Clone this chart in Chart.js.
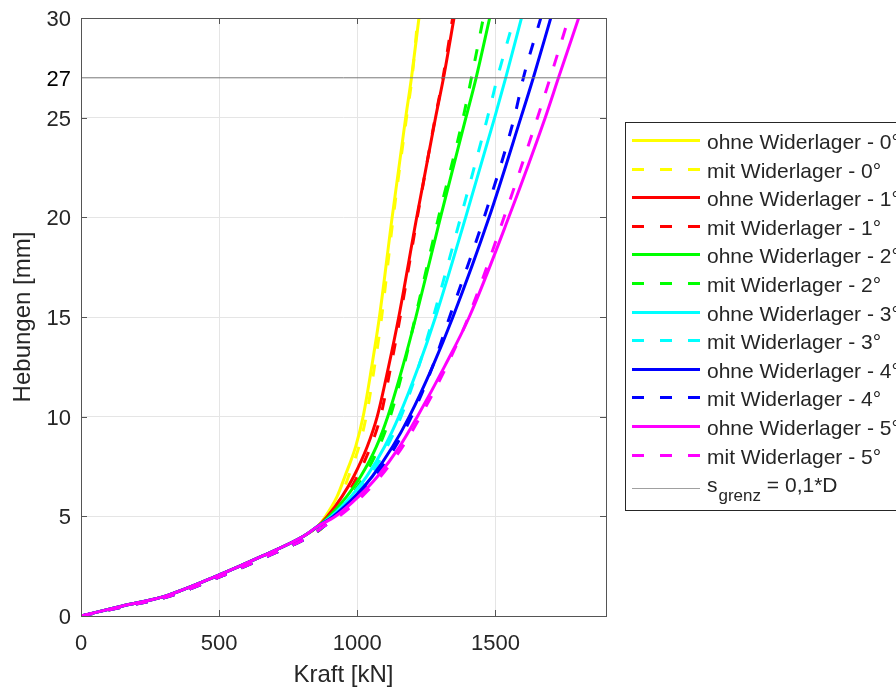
<!DOCTYPE html>
<html>
<head>
<meta charset="utf-8">
<script src="https://cdn.jsdelivr.net/npm/chart.js@4.4.1/dist/chart.umd.min.js"></script>
<style>
  html, body { margin: 0; padding: 0; background: #fff; }
  #wrap { width: 896px; height: 688px; }
</style>
</head>
<body>
<div id="wrap"><canvas id="c" width="896" height="688"></canvas></div>
<script>
// Hebungen [mm] - gemeinsame Stuetzstellen fuer alle Kurven
var hebungen = [0, 0.5, 1, 2, 3, 4, 4.5, 5, 6, 7, 8.5, 10, 12.5, 15, 20, 25, 27, 30];

// Kraft [kN] ohne Widerlager, je Neigung
var kraftOhne0 = [0, 150, 305, 490, 655, 805, 857, 885, 927, 955, 994, 1021, 1052, 1080, 1126, 1175, 1196, 1223];
var kraftOhne1 = [0, 150, 305, 490, 655, 805, 857, 892, 945, 987, 1036, 1072, 1113, 1150, 1215, 1283, 1312, 1350];
var kraftOhne2 = [0, 150, 305, 490, 655, 805, 857, 899, 962, 1012, 1069, 1110, 1164, 1212, 1301, 1393, 1430, 1479];
var kraftOhne3 = [0, 150, 305, 490, 655, 805, 857, 906, 977, 1034, 1099, 1150, 1221, 1283, 1392, 1497, 1537, 1594];
var kraftOhne4 = [0, 150, 305, 490, 655, 805, 857, 913, 992, 1054, 1128, 1188, 1272, 1346, 1477, 1592, 1637, 1700];
var kraftOhne5 = [0, 150, 305, 490, 655, 805, 857, 921, 1005, 1073, 1153, 1217, 1315, 1405, 1548, 1680, 1728, 1801];

// Kraft [kN] mit Widerlager, je Neigung
var kraftMit0 = [0, 165, 322, 508, 676, 828, 879, 902, 942, 968, 1006, 1032, 1062, 1088, 1130, 1178, 1198, 1219];
var kraftMit1 = [0, 165, 322, 508, 676, 828, 879, 908, 959, 1000, 1048, 1084, 1121, 1155, 1217, 1282, 1310, 1345];
var kraftMit2 = [0, 165, 322, 508, 676, 828, 879, 914, 975, 1024, 1079, 1119, 1168, 1210, 1294, 1383, 1413, 1456];
var kraftMit3 = [0, 165, 322, 508, 676, 828, 879, 920, 989, 1045, 1108, 1158, 1222, 1275, 1374, 1471, 1507, 1568];
var kraftMit4 = [0, 165, 322, 508, 676, 828, 879, 927, 1004, 1065, 1138, 1196, 1272, 1334, 1459, 1568, 1601, 1664];
var kraftMit5 = [0, 165, 322, 508, 676, 828, 879, 934, 1017, 1084, 1164, 1228, 1322, 1402, 1531, 1652, 1698, 1765];

var winkel = ['0°', '1°', '2°', '3°', '4°', '5°'];
var farben = ['#ffff00', '#ff0000', '#00ff00', '#00ffff', '#0000ff', '#ff00ff'];

// Grenzhebung s_grenz = 0,1*D
var sGrenz = 27;
var kraftBereich = [0, 1900];

var xTicks = [0, 500, 1000, 1500];
var yTicks = [0, 5, 10, 15, 20, 25, 27, 30];

var ohne = [kraftOhne0, kraftOhne1, kraftOhne2, kraftOhne3, kraftOhne4, kraftOhne5];
var mit = [kraftMit0, kraftMit1, kraftMit2, kraftMit3, kraftMit4, kraftMit5];

function punkte(kraft) {
  return kraft.map(function (k, i) { return { x: k, y: hebungen[i] }; });
}

var datasets = [];
winkel.forEach(function (w, i) {
  datasets.push({
    label: 'ohne Widerlager - ' + w,
    data: punkte(ohne[i]),
    borderColor: farben[i],
    borderWidth: 3
  });
  datasets.push({
    label: 'mit Widerlager - ' + w,
    data: punkte(mit[i]),
    borderColor: farben[i],
    borderWidth: 3,
    borderDash: [12, 16]
  });
});
datasets.push({
  label: 's_grenz = 0,1*D',
  data: [{ x: kraftBereich[0], y: sGrenz }, { x: kraftBereich[1], y: sGrenz }],
  borderColor: '#787878',
  borderWidth: 1
});
// spaeter geplottete Kurven liegen oben
datasets.forEach(function (ds, i) {
  ds.order = datasets.length - i;
  ds.pointRadius = 0;
  ds.fill = false;
  ds.cubicInterpolationMode = 'monotone';
});

var achsFarbe = '#262626';
var schrift = '"Liberation Sans", Arial, sans-serif';

// Rahmen und nach innen zeigende Ticks
var boxPlugin = {
  id: 'boxPlugin',
  afterDatasetsDraw: function (chart) {
    var a = chart.chartArea, ctx = chart.ctx;
    var xs = chart.scales.x, ys = chart.scales.y;
    ctx.save();
    ctx.strokeStyle = '#555';
    ctx.lineWidth = 1;
    ctx.beginPath();
    xTicks.forEach(function (v) {
      if (v <= kraftBereich[0]) return;
      var px = Math.round(xs.getPixelForValue(v)) + 0.5;
      ctx.moveTo(px, a.bottom); ctx.lineTo(px, a.bottom - 6);
      ctx.moveTo(px, a.top); ctx.lineTo(px, a.top + 6);
    });
    yTicks.forEach(function (v) {
      if (v === sGrenz || v === 0 || v === 30) return;
      var py = Math.round(ys.getPixelForValue(v)) + 0.5;
      ctx.moveTo(a.left, py); ctx.lineTo(a.left + 6, py);
      ctx.moveTo(a.right, py); ctx.lineTo(a.right - 6, py);
    });
    ctx.stroke();
    ctx.strokeRect(Math.round(a.left) + 0.5, Math.round(a.top) + 0.5,
      Math.round(a.right - a.left), Math.round(a.bottom - a.top));
    ctx.restore();
  }
};

// Legende rechts neben dem Diagramm
var legendePlugin = {
  id: 'legendePlugin',
  afterDraw: function (chart) {
    var ctx = chart.ctx;
    var x0 = 625.5, y0 = 122.5, w = 320, h = 388;
    ctx.save();
    ctx.fillStyle = '#fff';
    ctx.fillRect(x0, y0, w, h);
    ctx.strokeStyle = achsFarbe;
    ctx.lineWidth = 1;
    ctx.strokeRect(x0, y0, w, h);
    ctx.textBaseline = 'alphabetic';
    chart.data.datasets.forEach(function (ds, i) {
      var y = 140 + i * 28.6;
      var sub = ds.label.indexOf('_') >= 0;
      if (sub) y += 5;
      var ly = Math.round(y) + (ds.borderWidth % 2 ? 0.5 : 0);
      ctx.beginPath();
      ctx.strokeStyle = sub ? '#a0a0a0' : ds.borderColor;
      ctx.lineWidth = ds.borderWidth;
      ctx.setLineDash(ds.borderDash || []);
      ctx.moveTo(632, ly);
      ctx.lineTo(700, ly);
      ctx.stroke();
      ctx.setLineDash([]);
      ctx.fillStyle = achsFarbe;
      var tx = 707;
      ctx.font = '21px ' + schrift;
      if (sub) {
        var teile = ds.label.split('_');
        var rest = teile[1].split(' ');
        ctx.fillText(teile[0], tx, y + 4);
        tx += ctx.measureText(teile[0]).width + 1;
        ctx.font = '17px ' + schrift;
        ctx.fillText(rest[0], tx, y + 13);
        tx += ctx.measureText(rest[0]).width;
        ctx.font = '21px ' + schrift;
        ctx.fillText(' ' + rest.slice(1).join(' '), tx, y + 4);
      } else {
        ctx.fillText(ds.label, tx, y + 9);
      }
    });
    ctx.restore();
  }
};

Chart.defaults.font.family = schrift;
Chart.defaults.color = achsFarbe;

new Chart(document.getElementById('c'), {
  type: 'line',
  data: { datasets: datasets },
  options: {
    responsive: false,
    animation: false,
    devicePixelRatio: 1,
    layout: { padding: { left: 0, right: 290, top: 18, bottom: 0 } },
    plugins: { legend: { display: false }, tooltip: { enabled: false } },
    scales: {
      x: {
        type: 'linear',
        min: kraftBereich[0],
        max: kraftBereich[1],
        afterBuildTicks: function (s) { s.ticks = xTicks.map(function (v) { return { value: v }; }); },
        afterFit: function (s) { s.height = 72; s.paddingLeft = 0; s.paddingRight = 0; },
        grid: { color: '#e5e5e5', drawTicks: false },
        border: { display: false },
        ticks: {
          font: { size: 22 }, padding: 15, maxRotation: 0, color: achsFarbe,
          callback: function (v) { return String(v); }
        },
        title: { display: true, text: 'Kraft [kN]', font: { size: 24 }, padding: { top: 0, bottom: -2 }, color: achsFarbe }
      },
      y: {
        type: 'linear',
        min: 0,
        max: 30,
        afterBuildTicks: function (s) { s.ticks = yTicks.map(function (v) { return { value: v }; }); },
        afterFit: function (s) { s.width = 81; s.paddingTop = 0; s.paddingBottom = 0; },
        grid: {
          color: function (c) { return c.tick && c.tick.value === sGrenz ? 'rgba(0,0,0,0)' : '#e5e5e5'; },
          drawTicks: false
        },
        border: { display: false },
        ticks: {
          font: { size: 22 },
          padding: 10,
          labelOffset: 2,
          color: function (c) { return c.tick && c.tick.value === sGrenz ? '#000' : achsFarbe; },
          callback: function (v) { return String(v); }
        },
        title: { display: true, text: 'Hebungen [mm]', font: { size: 24 }, padding: { top: 9, bottom: 0 }, color: achsFarbe }
      }
    }
  },
  plugins: [boxPlugin, legendePlugin]
});
</script>
</body>
</html>
